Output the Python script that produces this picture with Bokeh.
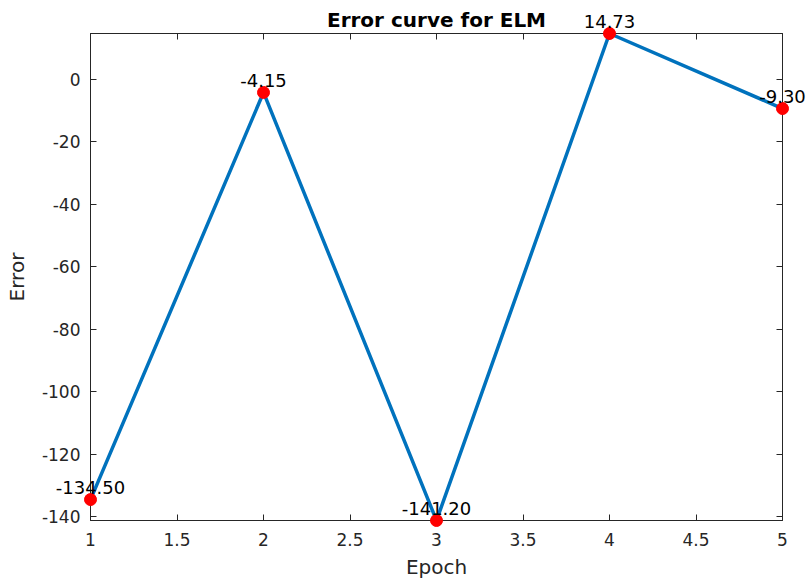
from bokeh.plotting import figure
from bokeh.models import (LinearAxis, Range1d, FixedTicker, ColumnDataSource,
                          CustomJSTickFormatter)
from bokeh.core.properties import value
from bokeh.embed import file_html
from bokeh.resources import INLINE

epochs = [1, 2, 3, 4, 5]
errors = [-134.50, -4.15, -141.20, 14.73, -9.30]
x_ticks = [1, 1.5, 2, 2.5, 3, 3.5, 4, 4.5, 5]
y_ticks = [-140, -120, -100, -80, -60, -40, -20, 0]

labels = ["%.2f" % e for e in errors]
src = ColumnDataSource(dict(x=epochs, y=errors, t=labels))

FONT = "DejaVu Sans"
AX = "#262626"

p = figure(width=812, height=581, output_backend="svg", toolbar_location=None,
           x_range=Range1d(min(epochs), max(epochs)),
           y_range=Range1d(min(errors), max(errors)),
           min_border_left=90, min_border_right=30, min_border_top=33, min_border_bottom=60,
           title="Error curve for ELM")
p.title.align = "center"
p.title.text_font = FONT
p.title.text_font_size = "20px"
p.title.text_color = "#000000"
p.title.text_font_style = "bold"
p.title.standoff = 4
p.title.offset = 0

p.xgrid.visible = False
p.ygrid.visible = False
p.outline_line_color = AX
p.outline_line_width = 1
p.background_fill_color = "white"
p.border_fill_color = "white"

fmt = CustomJSTickFormatter(code="return String(tick);")
for ax in (p.xaxis[0], p.yaxis[0]):
    ax.formatter = fmt
    ax.major_tick_in = 6
    ax.major_tick_out = 0
    ax.minor_tick_in = 0
    ax.minor_tick_out = 0
    ax.axis_line_color = AX
    ax.major_tick_line_color = AX
    ax.major_label_text_font = FONT
    ax.major_label_text_font_size = "17px"
    ax.major_label_text_color = AX
    ax.axis_label_text_font = FONT
    ax.axis_label_text_font_size = "20px"
    ax.axis_label_text_font_style = "normal"
    ax.axis_label_text_color = AX

p.xaxis[0].ticker = FixedTicker(ticks=x_ticks)
p.yaxis[0].ticker = FixedTicker(ticks=y_ticks)
p.xaxis[0].axis_label = "Epoch"
p.yaxis[0].axis_label = "Error"
p.xaxis[0].major_label_standoff = 12
p.yaxis[0].major_label_standoff = 10
p.xaxis[0].axis_label_standoff = 6
p.yaxis[0].axis_label_standoff = 10

blank = CustomJSTickFormatter(code="return '';")
top = LinearAxis(ticker=FixedTicker(ticks=x_ticks), formatter=blank,
                 major_label_text_font_size="0px",
                 major_tick_in=6, major_tick_out=0, minor_tick_in=0, minor_tick_out=0,
                 axis_line_color=AX, major_tick_line_color=AX, major_label_standoff=0)
right = LinearAxis(ticker=FixedTicker(ticks=y_ticks), formatter=blank,
                   major_label_text_font_size="0px",
                   major_tick_in=6, major_tick_out=0, minor_tick_in=0, minor_tick_out=0,
                   axis_line_color=AX, major_tick_line_color=AX, major_label_standoff=0)
p.add_layout(top, "above")
p.add_layout(right, "right")

p.line("x", "y", source=src, line_color="#0072BD", line_width=3.5, level="overlay")
p.scatter("x", "y", source=src, size=12, fill_color="#FF0000", line_color="#FF0000",
          level="overlay")
p.text("x", "y", text="t", source=src, text_align="center", text_baseline="alphabetic",
       y_offset=-12, text_font=value(FONT), text_font_size="18px", text_color="#000000",
       level="overlay")

open("out.html", "w").write(file_html(p, INLINE))
